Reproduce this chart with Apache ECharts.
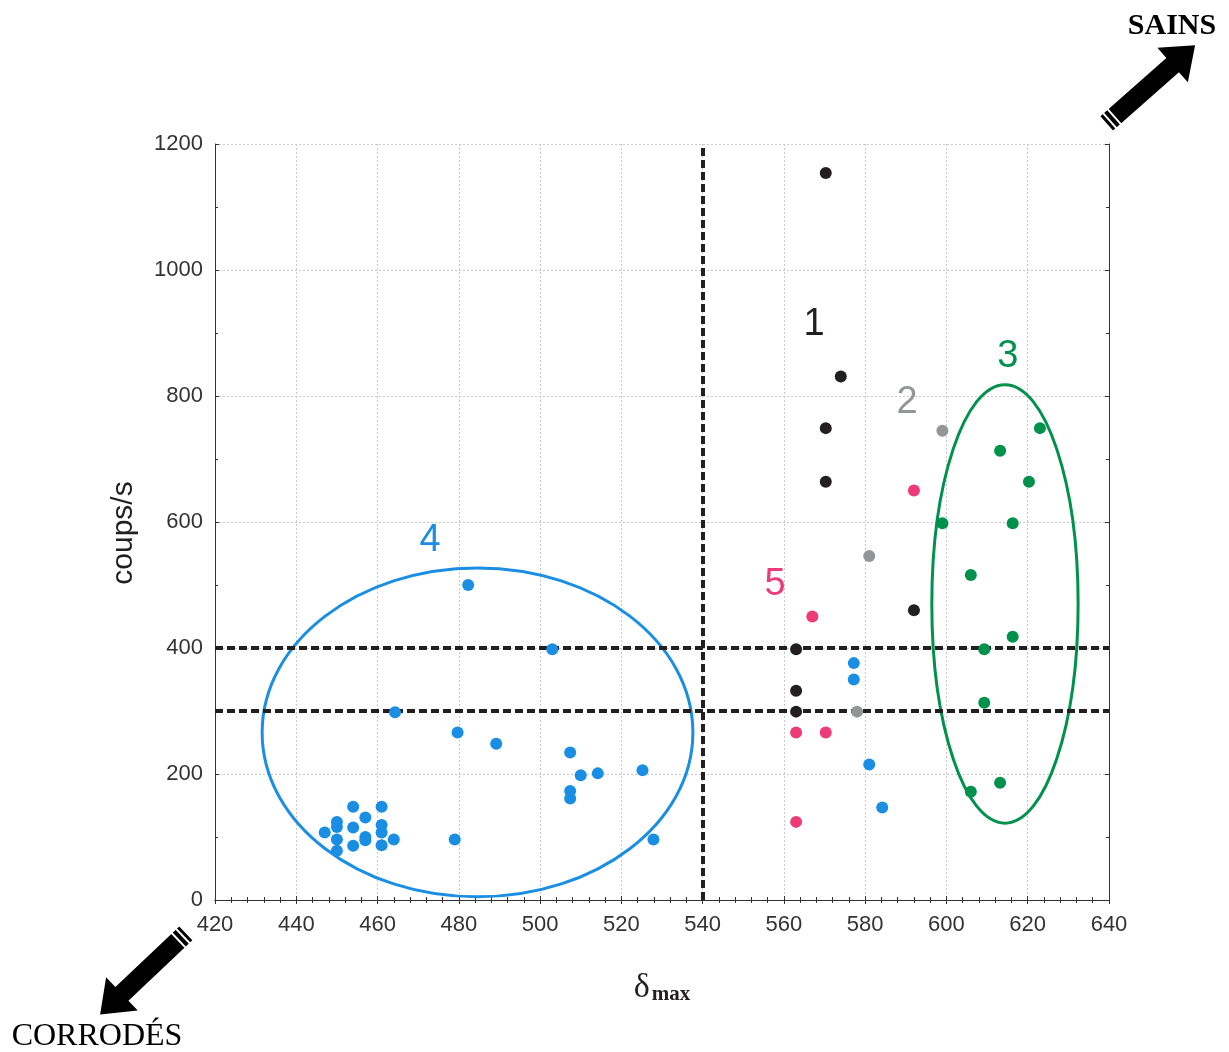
<!DOCTYPE html>
<html>
<head>
<meta charset="utf-8">
<script src="https://cdn.jsdelivr.net/npm/echarts@6/dist/echarts.min.js"></script>
<style>
  html, body { margin: 0; padding: 0; background: #fff; }
  #chart { width: 1229px; height: 1052px; }
</style>
</head>
<body>
<div id="chart"></div>
<script>
// groupe 1 (noir)
const group1 = [[570.3, 1154], [574, 831], [570.3, 749], [570.3, 664], [592, 460], [563, 398], [563, 332], [563, 299]]
// groupe 2 (gris)
const group2 = [[599, 745], [581, 546], [578, 299]]
// groupe 3 (vert)
const group3 = [[623, 749], [613.2, 713], [620.3, 664], [599, 598], [616.3, 598], [606, 516],
  [616.3, 418], [609.3, 398], [609.3, 313], [613.2, 186], [606, 172]]
// groupe 4 (bleu)
const group4 = [[454, 148], [461, 148], [450, 124], [450, 116], [457, 131], [454, 115], [461, 119],
  [447, 107], [461, 107], [457, 100], [457, 95], [464, 96], [450, 96], [461, 87], [454, 86], [450, 78],
  [479, 96], [482.3, 500], [503, 398], [464.3, 298], [479.7, 266], [489.2, 248], [507.4, 234],
  [510, 198], [514.2, 201], [525.2, 206], [507.4, 173], [507.4, 161], [527.9, 96],
  [577.2, 376], [577.2, 350], [581, 215], [584.2, 147]]
// groupe 5 (rose)
const group5 = [[592, 650], [567, 450], [563, 266], [570.3, 266], [563, 124]]

// ellipses: centre x, centre y, demi-axe x, demi-axe y
const ellipse4 = [484.6, 266, 53, 261]
const ellipse3 = [614.4, 470, 18, 348]

// seuils (lignes pointillees)
const xThresholds = [540]
const yThresholds = [300, 400]

// etiquettes des groupes
const groupLabels = [['1', 567.4, 913], ['2', 590.3, 790], ['3', 615.1, 862], ['4', 472.9, 570], ['5', 557.8, 500]]

const colors = { '1': '#231f20', '2': '#939598', '3': '#00914c', '4': '#1a8ee3', '5': '#ec3b76' }
const tickColor = '#333'

const chart = echarts.init(document.getElementById('chart'))

function scatter (data, key) {
  return {
    type: 'scatter',
    data: data,
    symbol: 'circle',
    symbolSize: 12,
    itemStyle: { color: colors[key], opacity: 1 },
    z: 5,
    silent: true
  }
}

function ellipseSeries (e, key) {
  return {
    type: 'custom',
    data: [e],
    z: 4,
    silent: true,
    renderItem (params, api) {
      const c = api.coord([api.value(0), api.value(1)])
      const s = api.size([api.value(2), api.value(3)])
      return {
        type: 'ellipse',
        shape: { cx: c[0], cy: c[1], rx: s[0], ry: s[1] },
        style: { fill: 'none', stroke: colors[key], lineWidth: 3 }
      }
    }
  }
}

const axisBase = {
  type: 'value',
  axisLine: { show: true, lineStyle: { color: tickColor, width: 1 } },
  axisTick: { show: true, inside: true, length: 4, lineStyle: { color: tickColor } },
  minorTick: { show: true, length: 3, lineStyle: { color: tickColor } }
}

// fleches
function arrow (x, y, rot) {
  return {
    type: 'group',
    x: x,
    y: y,
    rotation: rot,
    children: [
      {
        type: 'polygon',
        shape: { points: [[0, -9.5], [88, -9.5], [88, -23], [118, 0], [88, 23], [88, 9.5], [0, 9.5]] },
        style: { fill: '#000' }
      },
      { type: 'rect', shape: { x: 3, y: -12, width: 2, height: 24 }, style: { fill: '#fff' } },
      { type: 'rect', shape: { x: 9, y: -12, width: 2, height: 24 }, style: { fill: '#fff' } }
    ]
  }
}

chart.setOption({
  animation: false,
  backgroundColor: '#fff',
  grid: { left: 215, right: 120, top: 144, bottom: 152 },
  xAxis: [
    Object.assign({}, axisBase, {
      position: 'bottom',
      min: 420, max: 640, interval: 20,
      minorTick: Object.assign({}, axisBase.minorTick, { splitNumber: 5 }),
      axisLabel: { fontSize: 22, color: tickColor, fontFamily: 'Liberation Sans', margin: 14 },
      splitLine: { show: true, lineStyle: { color: '#c8c8c8', type: [2, 2], width: 1 } },
      name: '{d|δ}{m|max}',
      nameLocation: 'middle',
      nameGap: 70,
      nameTextStyle: {
        rich: {
          d: { fontFamily: 'Liberation Serif', fontSize: 34, color: '#231f20', verticalAlign: 'bottom' },
          m: { fontFamily: 'Liberation Serif', fontSize: 21, fontWeight: 'bold', color: '#231f20', padding: [14, 0, 0, 2] }
        }
      }
    }),
    Object.assign({}, axisBase, {
      position: 'top',
      min: 420, max: 640, interval: 20,
      minorTick: Object.assign({}, axisBase.minorTick, { splitNumber: 5 }),
      axisLabel: { show: false },
      splitLine: { show: false }
    })
  ],
  yAxis: [
    Object.assign({}, axisBase, {
      position: 'left',
      min: 0, max: 1200, interval: 200,
      minorTick: Object.assign({}, axisBase.minorTick, { splitNumber: 2 }),
      axisLabel: { fontSize: 22, color: tickColor, fontFamily: 'Liberation Sans', margin: 12, formatter: v => String(v) },
      splitLine: { show: true, lineStyle: { color: '#c8c8c8', type: [2, 2], width: 1 } },
      name: 'coups/s',
      nameLocation: 'middle',
      nameGap: 76,
      nameTextStyle: { fontSize: 30, color: '#231f20', fontFamily: 'Liberation Sans', padding: [0, 22, 0, 0] }
    }),
    Object.assign({}, axisBase, {
      position: 'right',
      min: 0, max: 1200, interval: 200,
      minorTick: Object.assign({}, axisBase.minorTick, { splitNumber: 2 }),
      axisLabel: { show: false },
      splitLine: { show: false }
    })
  ],
  series: [
    {
      type: 'scatter',
      data: [],
      z: 3,
      markLine: {
        silent: true,
        symbol: 'none',
        label: { show: false },
        lineStyle: { color: '#231f20', width: 4, type: [8, 4] },
        data: xThresholds.map(v => ({ xAxis: v })).concat(yThresholds.map(v => ({ yAxis: v })))
      }
    },
    ellipseSeries(ellipse4, '4'),
    ellipseSeries(ellipse3, '3'),
    scatter(group1, '1'),
    scatter(group2, '2'),
    scatter(group3, '3'),
    scatter(group4, '4'),
    scatter(group5, '5'),
    {
      type: 'scatter',
      symbolSize: 0,
      silent: true,
      z: 6,
      itemStyle: { opacity: 1 },
      data: groupLabels.map(l => ({
        value: [l[1], l[2]],
        label: {
          show: true,
          position: 'inside',
          formatter: l[0],
          fontSize: 38,
          fontFamily: 'Liberation Sans',
          color: colors[l[0]],
          opacity: 1
        }
      }))
    }
  ],
  graphic: [
    arrow(1106.7, 123.3, 0.724),
    arrow(185.8, 933.3, 3.90),
    {
      type: 'text',
      x: 1172, y: 26,
      style: { text: 'SAINS', font: 'bold 30px "Liberation Serif"', fill: '#000', align: 'center', verticalAlign: 'middle' }
    },
    {
      type: 'text',
      x: 97, y: 1037,
      style: { text: 'CORRODÉS', font: '32px "Liberation Serif"', fill: '#000', align: 'center', verticalAlign: 'middle' }
    }
  ]
})
</script>
</body>
</html>
